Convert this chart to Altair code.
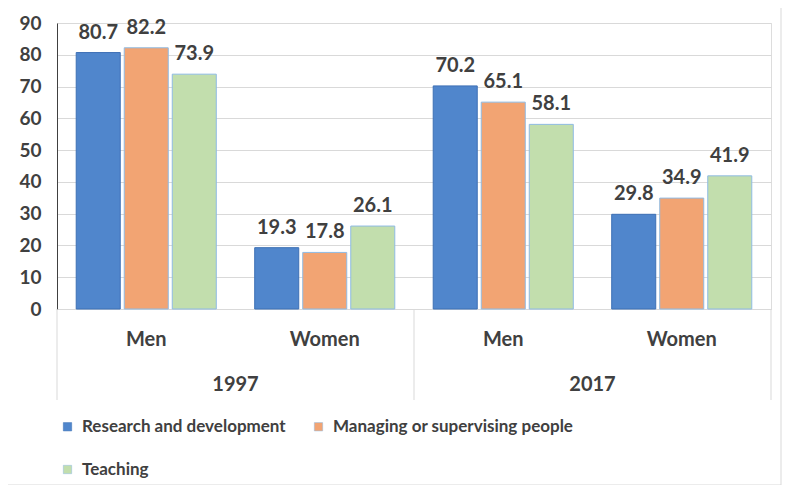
import altair as alt
import pandas as pd

years = ["1997", "1997", "2017", "2017"]
genders = ["Men", "Women", "Men", "Women"]
series = ["Research and development", "Managing or supervising people", "Teaching"]
research = [80.7, 19.3, 70.2, 29.8]
managing = [82.2, 17.8, 65.1, 34.9]
teaching = [73.9, 26.1, 58.1, 41.9]

fills = ["#5086cc", "#f2a473", "#c2dead"]
strokes = ["#3d70b5", "#8fbbe4", "#8fbbe4"]

keys = [f"{y} {g}" for y, g in zip(years, genders)]
rows = []
for s, vals in zip(series, [research, managing, teaching]):
    for k, v in zip(keys, vals):
        rows.append({"key": k, "series": s, "value": v})
df = pd.DataFrame(rows)

year_df = pd.DataFrame({"key": ["1997 Women", "2017 Women"], "year": ["1997", "2017"]})
sep_left = pd.DataFrame({"key": ["1997 Men", "2017 Men"]})
sep_right = pd.DataFrame({"key": ["2017 Women"]})

W, H = 714, 286
FONT = "Lato"
TXT = "#404040"
LIGHT = "#d9d9d9"

xscale = alt.Scale(domain=keys, paddingInner=0, paddingOuter=0)
xaxis = alt.Axis(title=None, labelExpr="slice(datum.label, 5)", labelAngle=0,
                 ticks=False, domainColor=LIGHT, labelPadding=30,
                 labelFontSize=20, labelFontWeight="bold", labelColor=TXT,
                 labelFont=FONT, grid=False, labelBaseline="middle")
yaxis = alt.Axis(title=None, values=list(range(0, 91, 10)), ticks=False,
                 domainColor=TXT, labelPadding=16, labelFontSize=19,
                 labelFontWeight="bold", labelColor=TXT, labelFont=FONT,
                 gridColor=LIGHT, labelOverlap=False)
xoff = alt.XOffset("series:N", sort=series,
                   scale=alt.Scale(domain=series, paddingInner=0.0833, paddingOuter=0.40))
yscale = alt.Scale(domain=[0, 90], nice=False)

base = alt.Chart(df)

bars = base.mark_bar(strokeWidth=1).encode(
    x=alt.X("key:N", scale=xscale, sort=keys, axis=xaxis),
    xOffset=xoff,
    y=alt.Y("value:Q", scale=yscale, axis=yaxis),
    fill=alt.Fill("series:N", sort=series, scale=alt.Scale(domain=series, range=fills),
                  legend=alt.Legend(title=None, orient="none", legendX=2, legendY=395,
                                    columns=2, direction="horizontal",
                                    symbolType="square", symbolSize=70,
                                    symbolStrokeColor="#3d70b5", symbolStrokeWidth=0.5,
                                    labelFontSize=17, labelFontWeight="bold",
                                    labelColor=TXT, labelFont=FONT, columnPadding=24,
                                    rowPadding=25, labelOffset=6, labelLimit=400)),
    stroke=alt.Stroke("series:N", sort=series, scale=alt.Scale(domain=series, range=strokes),
                      legend=None),
)

labels = base.mark_text(baseline="middle", dy=-20, fontSize=20, fontWeight="bold",
                        font=FONT, color=TXT).encode(
    x=alt.X("key:N", scale=xscale, sort=keys, axis=xaxis),
    xOffset=xoff,
    y=alt.Y("value:Q", scale=yscale, axis=yaxis),
    text=alt.Text("value:Q", format=".1f"),
)

year_text = alt.Chart(year_df).mark_text(baseline="middle", fontSize=20, fontWeight="bold",
                                         font=FONT, color=TXT).encode(
    x=alt.X("key:N", scale=xscale, sort=keys, bandPosition=0, axis=xaxis),
    y=alt.value(H + 76),
    text="year:N",
)

rules_l = alt.Chart(sep_left).mark_rule(color=LIGHT, strokeWidth=1).encode(
    x=alt.X("key:N", scale=xscale, sort=keys, bandPosition=0, axis=xaxis),
    y=alt.value(H), y2=alt.value(H + 91),
)
rules_r = alt.Chart(sep_right).mark_rule(color=LIGHT, strokeWidth=1).encode(
    x=alt.X("key:N", scale=xscale, sort=keys, bandPosition=1, axis=xaxis),
    y=alt.value(H), y2=alt.value(H + 91),
)

frame = alt.Chart(pd.DataFrame({"a": [0]})).mark_rect(
    fill=None, stroke=LIGHT, strokeWidth=1).encode(
    x=alt.value(-55), x2=alt.value(W + 10), y=alt.value(-21), y2=alt.value(H + 176),
)

chart = alt.layer(bars, frame, rules_l, rules_r, labels, year_text).properties(
    width=W, height=H,
    autosize=alt.AutoSizeParams(type="none"),
    padding={"left": 49, "top": 15, "right": 12, "bottom": 176},
).configure_view(stroke=None).configure(font=FONT)

chart.save("out.html", embed_options={"renderer": "svg", "actions": False})
